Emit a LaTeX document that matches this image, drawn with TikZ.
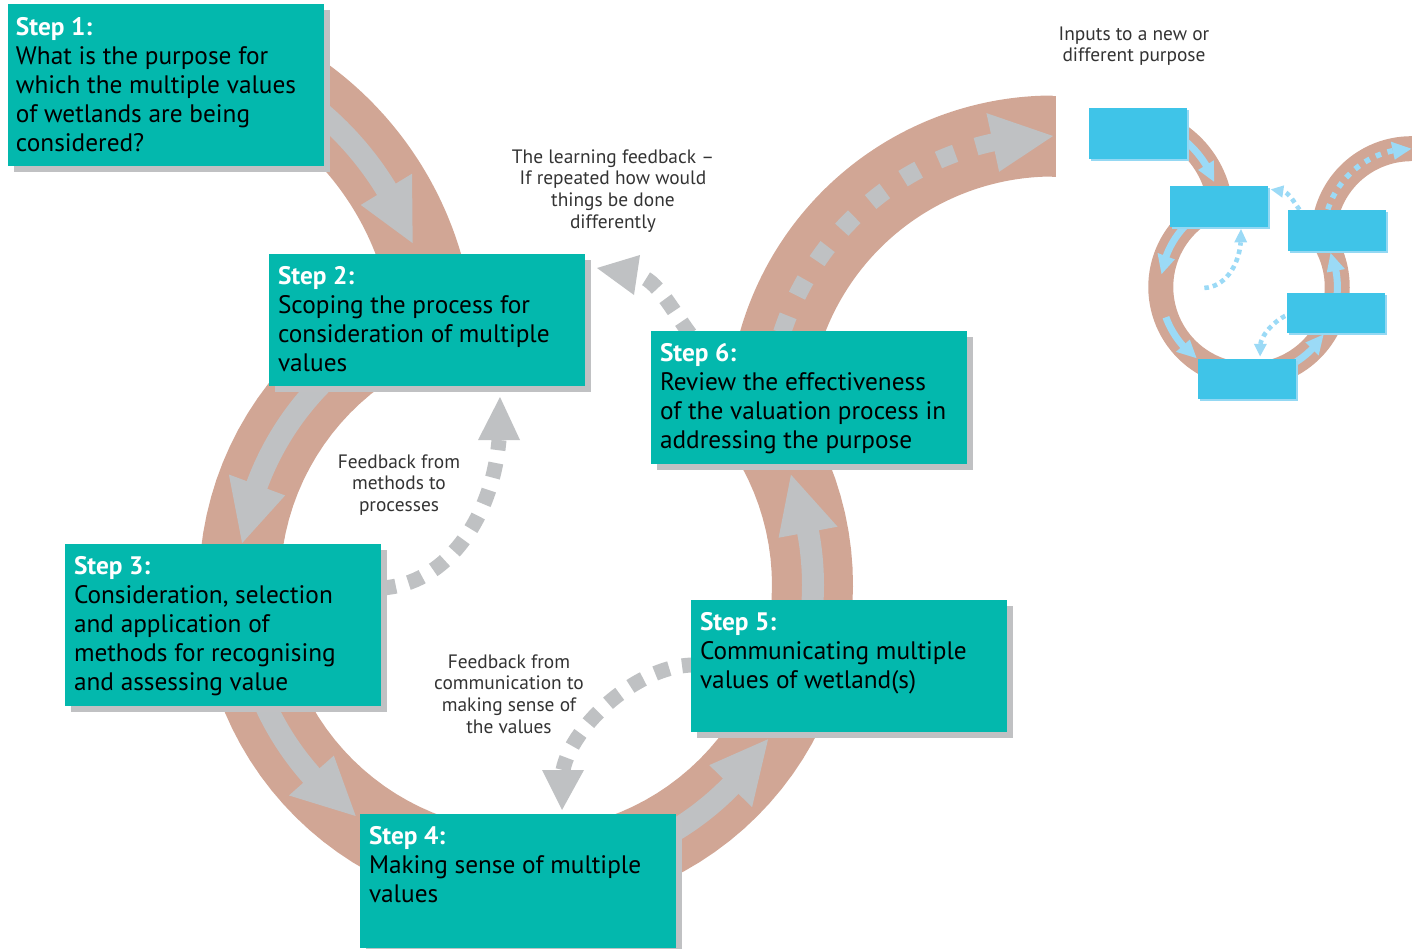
\documentclass[tikz,border=0pt]{standalone}
\usepackage{fontspec}
\setmainfont{PT Sans}
\usetikzlibrary{shadows}
\definecolor{tealbox}{HTML}{03B8AD}
\definecolor{shadowgray}{HTML}{C0C1C3}
\definecolor{band}{HTML}{D1A695}
\definecolor{arrowgray}{HTML}{BFC1C3}
\definecolor{skybox}{HTML}{3FC4E8}
\definecolor{skyshadow}{HTML}{94D8F3}
\definecolor{skyarrow}{HTML}{9BDAF6}
\definecolor{labelgray}{HTML}{333333}
\newcommand\ArcLine[6]{\draw[#1] plot[domain=#5:#6,samples=90,variable=\t] ({#2+#4*cos(\t)},{#3+#4*sin(\t)});}
\newcommand\ArcHead[7]{\fill[#1] ({#2+(#4-#7)*cos(#5)},{#3+(#4-#7)*sin(#5)}) -- ({#2+(#4+#7)*cos(#5)},{#3+(#4+#7)*sin(#5)}) -- ({#2+#4*cos(#6)},{#3+#4*sin(#6)}) -- cycle;}
\newcommand\FlowGeometry{%
  % bands
  \ArcLine{flowband}{115}{355}{320}{-72}{-5}
  \ArcLine{flowband}{526}{585}{286.5}{-35}{250}
  \ArcLine{flowband}{1053}{421}{285}{180}{270}
  \fill[band] (1052,95.5) rectangle (1056,176.5);
  % solid arrows along the band
  \ArcLine{flowshaft}{115}{355}{318}{-55}{-29.4}
  \ArcHead{flowhead}{115}{355}{318}{-31.4}{-20.6}{30}
  \ArcLine{flowshaft}{526}{585}{287}{198.4}{228}
  \ArcHead{flowhead}{526}{585}{287}{200.4}{188.4}{30}
  \ArcLine{flowshaft}{526}{585}{287}{136.4}{160}
  \ArcHead{flowhead}{526}{585}{287}{138.4}{126.4}{30}
  \ArcLine{flowshaft}{526}{585}{287}{42.5}{65}
  \ArcHead{flowhead}{526}{585}{287}{44.5}{32.5}{30}
  \ArcLine{flowshaft}{526}{585}{287}{-12.6}{6}
  \ArcHead{flowhead}{526}{585}{287}{-10.6}{-22.6}{30}
  % dotted arrow to a new purpose
  \ArcLine{flowdots}{1053}{421}{285}{190}{258}
  \ArcHead{flowhead}{1053}{421}{285}{257.8}{270}{30}
  % feedback arrows
  \coordinate (fb1s) at (381,588);
  \coordinate (fb1e) at (499,440);
  \draw[fbdots] (fb1s) .. controls (445,585) and (492,520) .. (fb1e);
  \fill[flowhead] (478,440) -- (520,440) -- (500,397) -- cycle;
  \coordinate (fb2s) at (697,665);
  \coordinate (fb2e) at (563,770);
  \draw[fbdots] (fb2s) .. controls (640,663) and (572,725) .. (fb2e);
  \fill[flowhead] (542,770) -- (584,770) -- (562,810) -- cycle;
  \coordinate (fb3s) at (690,334);
  \coordinate (fb3e) at (637,275);
  \draw[fbdots] (fb3s) .. controls (672,310) and (657,279) .. (fb3e);
  \fill[flowhead] (640,255) -- (634,295) -- (597,268) -- cycle;
}
\tikzset{
  stepbox/.style={fill=tealbox, draw=none, inner sep=0pt, outer sep=0pt, anchor=north west, minimum width=316pt,
    drop shadow={shadow xshift=6pt, shadow yshift=-6pt, fill=shadowgray, opacity=1}},
  smallbox/.style={fill=skybox, draw=none, inner sep=0pt, outer sep=0pt, anchor=north west, minimum width=98pt,
    drop shadow={shadow xshift=2pt, shadow yshift=-2pt, fill=skyshadow, opacity=1}},
  steptext/.style={inner sep=0pt, outer sep=0pt, anchor=base west, text=black, font=\fontsize{25.3pt}{29pt}\selectfont},
  lbl/.style={inner sep=0pt, outer sep=0pt, anchor=base, text=labelgray, font=\fontsize{19.4pt}{21.7pt}\selectfont},
}
\newcommand\stephead[1]{\textcolor{white}{\bfseries #1}}
\begin{document}
\begin{tikzpicture}[x=1pt,y=-1pt]
\useasboundingbox (0,0) rectangle (1419,948);
% ---- main diagram geometry
\begin{scope}[flowband/.style={draw=band,line width=81pt},
  flowshaft/.style={draw=arrowgray,line width=22pt},
  flowhead/.style={fill=arrowgray},
  flowdots/.style={draw=arrowgray,line width=18pt,dash pattern=on 18pt off 22pt},
  fbdots/.style={draw=arrowgray,line width=15pt,dash pattern=on 15pt off 13pt}]
  \FlowGeometry
\end{scope}
% ---- small diagram geometry
\begin{scope}[shift={(1249,287)}, scale=0.308, shift={(-526,-585)},
  flowband/.style={draw=band,line width=25pt},
  flowshaft/.style={draw=skyarrow,line width=7pt},
  flowhead/.style={fill=skyarrow},
  flowdots/.style={draw=skyarrow,line width=5.5pt,dash pattern=on 5.5pt off 6.8pt},
  fbdots/.style={draw=skyarrow,line width=4.6pt,dash pattern=on 4.6pt off 4pt}]
  \FlowGeometry
\end{scope}
% ---- step boxes
\node[stepbox, minimum height=162pt] (s1) at (8,4) {};
\node[stepbox, minimum height=132pt] (s2) at (269,254) {};
\node[stepbox, minimum height=162pt] (s3) at (65,544) {};
\node[stepbox, minimum height=134pt] (s4) at (360,814) {};
\node[stepbox, minimum height=132pt] (s5) at (691,600) {};
\node[stepbox, minimum height=133pt] (s6) at (651,331) {};
\node[steptext] (s1t) at (16,35) {\parbox[t]{305pt}{\raggedright\stephead{Step 1:}\\What is the purpose for\\which the multiple values\\of wetlands are being\\considered?}};
\node[steptext] (s2t) at (278,284) {\parbox[t]{305pt}{\raggedright\stephead{Step 2:}\\Scoping the process for\\consideration of multiple\\values}};
\node[steptext] (s3t) at (74,574) {\parbox[t]{305pt}{\raggedright\stephead{Step 3:}\\Consideration, selection\\and application of\\methods for recognising\\and assessing value}};
\node[steptext] (s4t) at (369,844) {\parbox[t]{305pt}{\raggedright\stephead{Step 4:}\\Making sense of multiple\\values}};
\node[steptext] (s5t) at (700,630) {\parbox[t]{305pt}{\raggedright\stephead{Step 5:}\\Communicating multiple\\values of wetland(s)}};
\node[steptext] (s6t) at (660,361) {\parbox[t]{305pt}{\raggedright\stephead{Step 6:}\\Review the effectiveness\\of the valuation process in\\addressing the purpose}};
% ---- labels
\node[lbl] (l1) at (613,163) {\parbox[t]{240pt}{\centering The learning feedback –\\If repeated how would\\things be done\\differently}};
\node[lbl] (l2) at (399,468) {\parbox[t]{200pt}{\centering Feedback from\\methods to\\processes}};
\node[lbl] (l3) at (509,668) {\parbox[t]{200pt}{\centering Feedback from\\communication to\\making sense of\\the values}};
\node[lbl] (l4) at (1134,40) {\parbox[t]{220pt}{\centering Inputs to a new or\\different purpose}};
% ---- small boxes
\node[smallbox, minimum height=51pt] (b1) at (1089,108) {};
\node[smallbox, minimum height=41pt] (b2) at (1170,186) {};
\node[smallbox, minimum height=41pt] (b3) at (1288,210) {};
\node[smallbox, minimum height=40pt] (b4) at (1287,293) {};
\node[smallbox, minimum height=40pt] (b5) at (1198,359) {};
\end{tikzpicture}
\end{document}
